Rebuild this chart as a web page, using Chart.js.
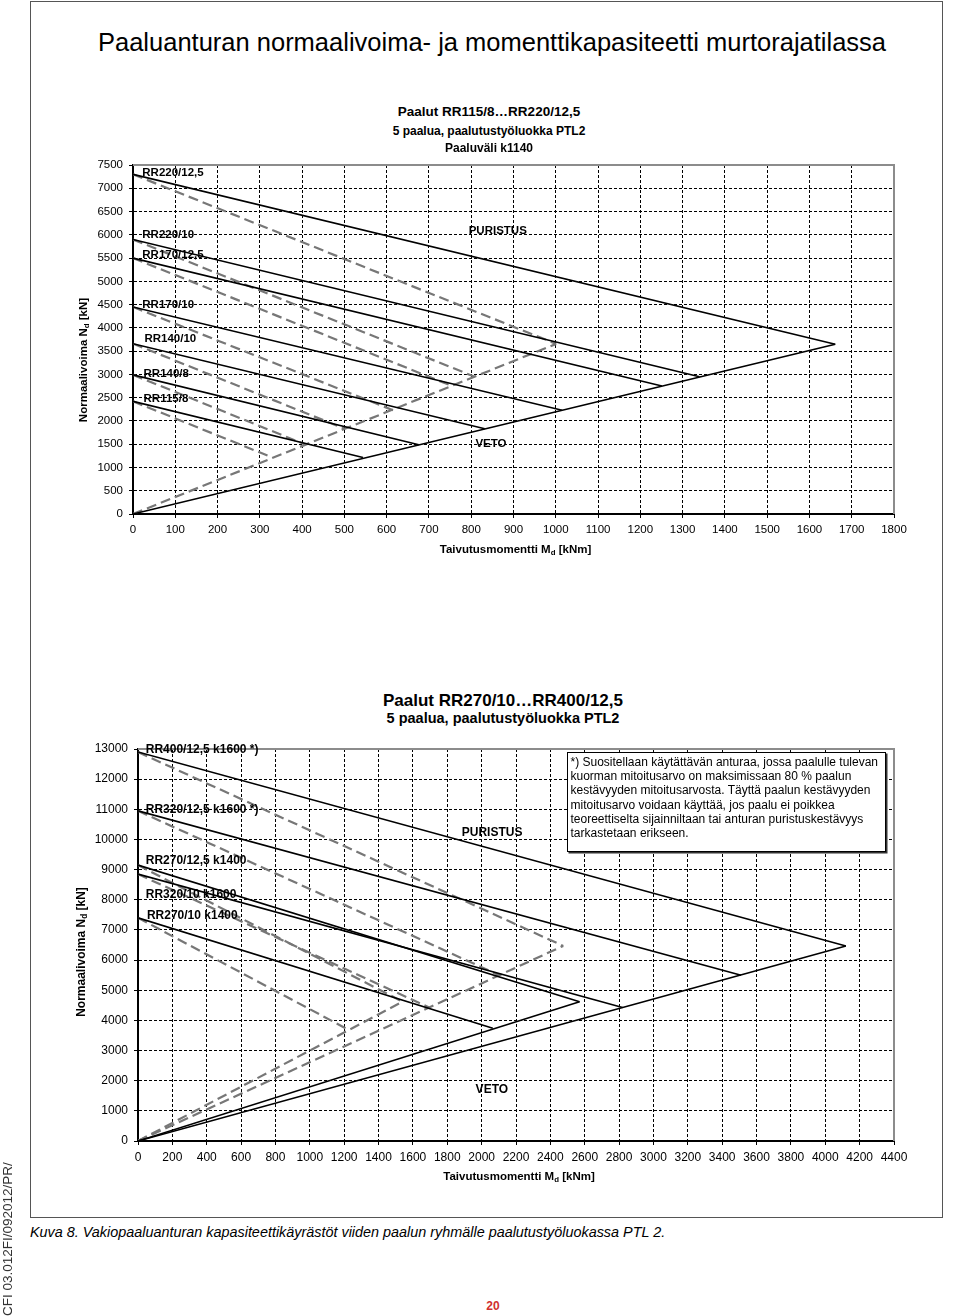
<!DOCTYPE html>
<html><head><meta charset="utf-8">
<script src="https://cdn.jsdelivr.net/npm/chart.js@4/dist/chart.umd.min.js"></script>
<style>
html,body{margin:0;padding:0;background:#fff;}
body{width:960px;height:1316px;position:relative;overflow:hidden;font-family:"Liberation Sans",Arial,sans-serif;color:#000;}
.t{position:absolute;white-space:nowrap;line-height:1;}
.b{font-weight:bold;}
#frame{position:absolute;left:30px;top:1px;width:913px;height:1217px;border:1px solid #555;box-sizing:border-box;}
canvas{position:absolute;left:0;}
#note{position:absolute;left:567px;top:752px;width:319px;height:100px;box-sizing:border-box;border:1px solid #000;box-shadow:1.5px 1.5px 0 #333;background:#fff;font-size:12px;line-height:14.2px;padding:2px 0 0 2.5px;white-space:nowrap;}
sub{font-size:0.68em;vertical-align:-0.25em;line-height:0;}
</style></head><body>
<div id="frame"></div>
<canvas id="c1" width="960" height="400" style="top:150px"></canvas>
<canvas id="c2" width="960" height="450" style="top:730px"></canvas>

<div class="t" id="mainTitle" style="font-size:25.5px" data-cx="492" data-cy="42">Paaluanturan normaalivoima- ja momenttikapasiteetti murtorajatilassa</div>
<div class="t b" style="font-size:13.5px" data-cx="489" data-cy="112">Paalut RR115/8…RR220/12,5</div>
<div class="t b" style="font-size:12px" data-cx="489" data-cy="131">5 paalua, paalutustyöluokka PTL2</div>
<div class="t b" style="font-size:12px" data-cx="489" data-cy="148">Paaluväli k1140</div>

<div class="t b" style="font-size:11.5px" data-cx="515.5" data-cy="550">Taivutusmomentti M<sub>d</sub> [kNm]</div>
<div class="t b" style="font-size:11.5px" data-cx="84" data-cy="360" data-rot="1">Normaalivoima N<sub>d</sub> [kN]</div>

<div class="t b" style="font-size:17px" data-cx="503" data-cy="700">Paalut RR270/10…RR400/12,5</div>
<div class="t b" style="font-size:14.5px" data-cx="503" data-cy="718">5 paalua, paalutustyöluokka PTL2</div>

<div class="t b" style="font-size:11.5px" data-cx="519" data-cy="1177">Taivutusmomentti M<sub>d</sub> [kNm]</div>
<div class="t b" style="font-size:12px" data-cx="81" data-cy="952" data-rot="1">Normaalivoima N<sub>d</sub> [kN]</div>

<div id="note">*) Suositellaan käytättävän anturaa, jossa paalulle tulevan<br>kuorman mitoitusarvo on maksimissaan 80 % paalun<br>kestävyyden mitoitusarvosta. Täyttä paalun kestävyyden<br>mitoitusarvo voidaan käyttää, jos paalu ei poikkea<br>teoreettiselta sijainniltaan tai anturan puristuskestävyys<br>tarkastetaan erikseen.</div>

<div class="t" style="font-size:14.4px;font-style:italic" data-lx="30" data-cy="1232">Kuva 8. Vakiopaaluanturan kapasiteettikäyrästöt viiden paalun ryhmälle paalutustyöluokassa PTL 2.</div>
<div class="t b" style="font-size:12px;color:#d03030" data-cx="493" data-cy="1306">20</div>
<div class="t" id="side" style="font-size:13.5px;color:#333;left:1px;top:1316px;transform-origin:0 0;transform:rotate(-90deg);line-height:14px">CFI 03.012FI/092012/PR/</div>

<script>
// ---------------- DATA: chart 1 (RR115/8 ... RR220/12,5) ----------------
const c1Piles      = ['RR220/12,5', 'RR220/10', 'RR170/12,5', 'RR170/10', 'RR140/10', 'RR140/8', 'RR115/8'];
const c1StartN     = [7300, 5900, 5500, 4450, 3660, 2990, 2420];
const c1SolidTipM  = [1661, 1340, 1251, 1015, 832, 676, 544];
const c1SolidTipN  = [3650, 2950, 2750, 2230, 1830, 1490, 1215];
const c1DashTipM   = [1001, 808, 755, 615, 500, 406, 327];
const c1DashTipN   = [3656, 2950, 2750, 2230, 1835, 1500, 1224];
const c1VetoSolidM = [0, 1661];
const c1VetoSolidN = [0, 3650];
const c1VetoDashM  = [0, 1001];
const c1VetoDashN  = [0, 3656];
const c1XAxis = {min: 0, max: 1800, step: 100};
const c1YAxis = {min: 0, max: 7500, step: 500};

// ---------------- DATA: chart 2 (RR270/10 ... RR400/12,5) ----------------
const c2Piles      = ['RR400/12,5 k1600 *)', 'RR320/12,5 k1600 *)', 'RR320/10 k1600', 'RR270/12,5 k1400', 'RR270/10 k1400'];
const c2StartN     = [12900, 10950, 8850, 9150, 7400];
const c2SolidTipM  = [4120, 3510, 2820, 2570, 2065];
const c2SolidTipN  = [6470, 5500, 4430, 4620, 3740];
const c2DashTipM   = [2475, 2105, 1695, 1540, 1215];
const c2DashTipN   = [6470, 5490, 4430, 4620, 3720];
const c2VetoK1600SolidM = [0, 4120];
const c2VetoK1600SolidN = [0, 6470];
const c2VetoK1400SolidM = [0, 2570];
const c2VetoK1400SolidN = [0, 4620];
const c2VetoK1600DashM  = [0, 2475];
const c2VetoK1600DashN  = [0, 6470];
const c2VetoK1400DashM  = [0, 1540];
const c2VetoK1400DashN  = [0, 4620];
const c2XAxis = {min: 0, max: 4400, step: 200};
const c2YAxis = {min: 0, max: 13000, step: 1000};

// ---------------- page text placement ----------------
document.querySelectorAll('[data-cy]').forEach(el => {
  const fs = parseFloat(el.style.fontSize);
  const cy = parseFloat(el.dataset.cy);
  if (el.dataset.rot) {
    el.style.left = el.dataset.cx + 'px';
    el.style.top = cy + 'px';
    el.style.transform = 'translate(-50%,-50%) rotate(-90deg)';
    return;
  }
  el.style.top = (cy - 0.489 * fs) + 'px';
  if (el.dataset.cx) {
    el.style.left = el.dataset.cx + 'px';
    el.style.transform = 'translateX(-50%)';
  } else {
    el.style.left = el.dataset.lx + 'px';
  }
});

// ---------------- chart helpers ----------------
const FAMILY = '"Liberation Sans", Arial, sans-serif';
const SOLID = {borderColor: '#000', borderWidth: 1.6, borderDash: []};
const DASH  = {borderColor: '#777', borderWidth: 2.2, borderDash: [10, 5]};

function seg(m, n, style) {
  return Object.assign({
    data: m.map((v, i) => ({x: v, y: n[i]})),
    showLine: true, pointRadius: 0, pointHoverRadius: 0, fill: false, tension: 0,
    borderCapStyle: 'butt'
  }, style);
}

function pileDatasets(starts, tipM, tipN, style) {
  return starts.map((n0, i) => seg([0, tipM[i]], [n0, tipN[i]], style));
}

const textPlugin = {
  id: 'annText',
  afterDatasetsDraw(chart, args, opts) {
    const {ctx, scales: {x, y}} = chart;
    ctx.save();
    ctx.font = opts.font;
    ctx.fillStyle = '#000';
    ctx.textBaseline = 'middle';
    ctx.textAlign = 'left';
    (opts.items || []).forEach(it => ctx.fillText(it.text, x.getPixelForValue(it.m), y.getPixelForValue(it.n)));
    ctx.restore();
  }
};

const framePlugin = {
  id: 'plotFrame',
  beforeDatasetsDraw(chart) {
    const {ctx, chartArea: a} = chart;
    ctx.save();
    ctx.strokeStyle = '#8c8c8c';
    ctx.lineWidth = 2;
    ctx.beginPath();
    ctx.moveTo(a.left, a.top);
    ctx.lineTo(a.right, a.top);
    ctx.lineTo(a.right, a.bottom);
    ctx.stroke();
    ctx.restore();
  }
};

function axis(range, fontSize, pad, fit) {
  return {
    type: 'linear', min: range.min, max: range.max,
    ticks: {stepSize: range.step, autoSkip: false, maxRotation: 0, color: '#000', padding: pad,
            font: {family: FAMILY, size: fontSize}, callback: v => String(v)},
    grid: {color: '#000', lineWidth: 1, drawTicks: true, tickLength: 4, tickColor: '#000',
           tickBorderDash: [], borderDash: [3, 2]},
    border: {display: true, color: '#000', width: 2, dash: [3, 2]},
    afterFit: fit
  };
}

function makeChart(id, datasets, cfg) {
  return new Chart(document.getElementById(id), {
    type: 'scatter',
    data: {datasets},
    options: {
      responsive: false, animation: false, devicePixelRatio: 1,
      layout: {padding: cfg.padding},
      scales: {
        x: axis(cfg.x, cfg.tickSize, 5, s => { s.height = cfg.xHeight; }),
        y: axis(cfg.y, cfg.tickSize, 6, s => { s.width = cfg.yWidth; })
      },
      plugins: {
        legend: {display: false}, tooltip: {enabled: false},
        annText: {font: 'bold ' + cfg.labelSize + 'px ' + FAMILY, items: cfg.labels}
      }
    },
    plugins: [framePlugin, textPlugin]
  });
}

// ---------------- chart 1 ----------------
const ds1 = [].concat(
  [seg(c1VetoSolidM, c1VetoSolidN, SOLID)],
  pileDatasets(c1StartN, c1SolidTipM, c1SolidTipN, SOLID),
  [seg(c1VetoDashM, c1VetoDashN, DASH)],
  pileDatasets(c1StartN, c1DashTipM, c1DashTipN, DASH)
);
const c1LabelPos = [[22, 7325], [22, 6000], [22, 5560], [22, 4500], [27, 3770], [25, 3020], [25, 2470]];
makeChart('c1', ds1, {
  x: c1XAxis, y: c1YAxis, tickSize: 11.5, labelSize: 11.5,
  padding: {left: 0, right: 66, top: 15, bottom: 0}, xHeight: 36, yWidth: 133,
  labels: c1Piles.map((t, i) => ({text: t, m: c1LabelPos[i][0], n: c1LabelPos[i][1]}))
    .concat([{text: 'PURISTUS', m: 794, n: 6090}, {text: 'VETO', m: 810, n: 1500}])
});

// ---------------- chart 2 ----------------
const ds2 = [].concat(
  [seg(c2VetoK1600SolidM, c2VetoK1600SolidN, SOLID), seg(c2VetoK1400SolidM, c2VetoK1400SolidN, SOLID)],
  pileDatasets(c2StartN, c2SolidTipM, c2SolidTipN, SOLID),
  [seg(c2VetoK1600DashM, c2VetoK1600DashN, DASH), seg(c2VetoK1400DashM, c2VetoK1400DashN, DASH)],
  pileDatasets(c2StartN, c2DashTipM, c2DashTipN, DASH)
);
const c2LabelPos = [[45, 12970], [45, 11000], [45, 8160], [45, 9310], [52, 7470]];
makeChart('c2', ds2, {
  x: c2XAxis, y: c2YAxis, tickSize: 12, labelSize: 12,
  padding: {left: 0, right: 66, top: 19, bottom: 0}, xHeight: 39, yWidth: 138,
  labels: c2Piles.map((t, i) => ({text: t, m: c2LabelPos[i][0], n: c2LabelPos[i][1]}))
    .concat([{text: 'PURISTUS', m: 1884, n: 10230}, {text: 'VETO', m: 1965, n: 1715}])
});
</script>
</body></html>
